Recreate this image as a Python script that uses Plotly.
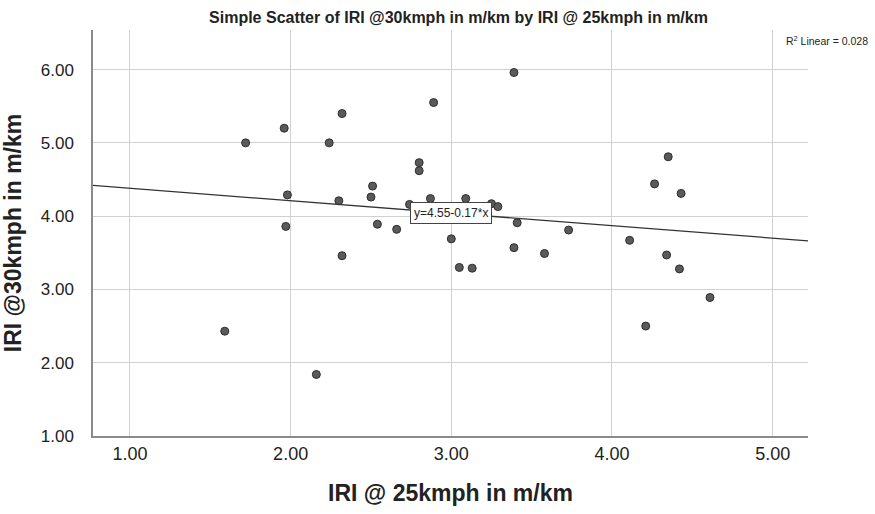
import numpy as np
import plotly.graph_objects as go

# Data
iri_25 = [1.59, 1.72, 1.96, 1.97, 1.98, 2.16, 2.24, 2.30, 2.32, 2.32,
          2.50, 2.51, 2.54, 2.66, 2.74, 2.80, 2.80, 2.87, 2.89, 3.00,
          3.05, 3.09, 3.13, 3.25, 3.29, 3.39, 3.39, 3.41, 3.58, 3.73,
          4.11, 4.21, 4.265, 4.34, 4.35, 4.42, 4.43, 4.61]
iri_30 = [2.43, 5.00, 5.20, 3.86, 4.29, 1.84, 5.00, 4.21, 5.40, 3.46,
          4.26, 4.41, 3.89, 3.82, 4.16, 4.73, 4.62, 4.24, 5.55, 3.69,
          3.30, 4.24, 3.29, 4.17, 4.13, 5.96, 3.57, 3.91, 3.49, 3.81,
          3.67, 2.50, 4.44, 3.47, 4.81, 3.28, 4.31, 2.89]

fit_intercept = 4.55
fit_slope = -0.17
r2_linear = 0.028

x_ticks = [1, 2, 3, 4, 5]
y_ticks = [1, 2, 3, 4, 5, 6]
x_range = [0.77, 5.22]
y_range = [1.0, 6.54]

FONT = "Liberation Sans, Arial, sans-serif"

fit_x = np.array(x_range)
fit_y = fit_intercept + fit_slope * fit_x

fig = go.Figure()
fig.add_trace(go.Scatter(
    x=fit_x, y=fit_y, mode="lines",
    line=dict(color="#333333", width=1.3),
    hoverinfo="skip", showlegend=False,
))
fig.add_trace(go.Scatter(
    x=iri_25, y=iri_30, mode="markers",
    marker=dict(size=8, color="#5a5a5a", line=dict(color="#2e2e2e", width=1)),
    showlegend=False,
))

label_x = 3.0
fig.add_annotation(
    x=label_x, y=fit_intercept + fit_slope * label_x, xref="x", yref="y",
    text=f"y={fit_intercept:.2f}-{abs(fit_slope):.2f}*x",
    showarrow=False, font=dict(family=FONT, size=12, color="#222222"),
    bgcolor="white", bordercolor="#444444", borderwidth=1, borderpad=3,
)
fig.add_annotation(
    x=0.966, y=0.975, xref="paper", yref="paper", xanchor="left", yanchor="middle",
    text=f"R<sup>2</sup> Linear = {r2_linear:.3f}", showarrow=False,
    font=dict(family=FONT, size=10.5, color="#222222"),
)

fig.update_layout(
    width=875, height=514,
    margin=dict(l=93, r=67, t=30, b=78),
    paper_bgcolor="white", plot_bgcolor="white",
    font=dict(family=FONT, color="#222222"),
    title=dict(
        text="<b>Simple Scatter of IRI @30kmph in m/km by IRI @ 25kmph in m/km</b>",
        x=0.524, xanchor="center", y=0.967, yanchor="middle",
        font=dict(family=FONT, size=16, color="#222222"),
    ),
    xaxis=dict(
        range=x_range, tickvals=x_ticks, ticktext=[f"{v:.2f}" for v in x_ticks],
        showgrid=True, gridcolor="#d0d0d0", gridwidth=1,
        showline=True, linecolor="#8a8a8a", linewidth=1.5,
        zeroline=False, ticks="", ticklabelstandoff=1, automargin=False,
        tickfont=dict(family=FONT, size=18, color="#222222"),
        title=dict(text="<b>IRI @ 25kmph in m/km</b>", standoff=22,
                   font=dict(family=FONT, size=23, color="#222222")),
    ),
    yaxis=dict(
        range=y_range, tickvals=y_ticks, ticktext=[f"{v:.2f}" for v in y_ticks],
        showgrid=True, gridcolor="#d0d0d0", gridwidth=1,
        showline=True, linecolor="#8a8a8a", linewidth=1.5,
        zeroline=False, ticks="", ticklabelstandoff=14, automargin=False,
        tickfont=dict(family=FONT, size=17, color="#222222"),
        title=dict(text="<b>IRI @30kmph in m/km</b>", standoff=16,
                   font=dict(family=FONT, size=23, color="#222222")),
    ),
)

# remove the page's default body margin so the figure sits at the window origin
fig.write_html("out.html", config={"displayModeBar": False},
               post_script="document.body.style.margin='0';")
